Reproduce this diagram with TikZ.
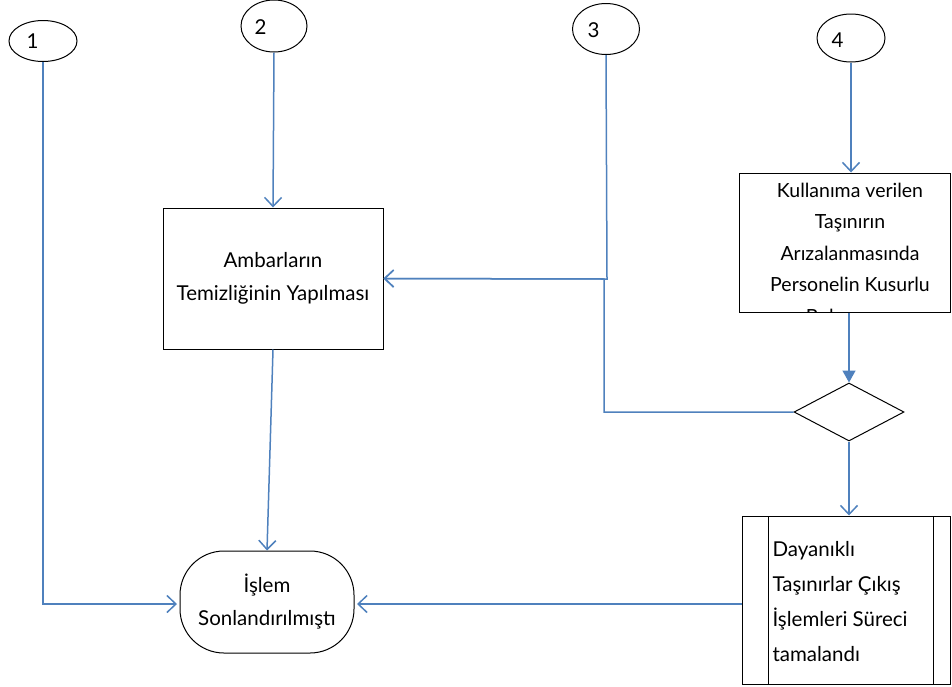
\documentclass[tikz,border=0pt]{standalone}
\usepackage{fontspec}
\setmainfont{Lato}
\usetikzlibrary{arrows.meta,shapes.geometric}
\definecolor{flowblue}{HTML}{4F81BD}
\tikzset{
  conn/.style={draw=flowblue,line width=1.5pt},
  openarr/.style={conn,-{Straight Barb[length=9pt,width=17pt,line width=1.5pt]}},
  fillarr/.style={conn,-{Triangle[length=12pt,width=13pt]}},
  conn-circ/.style={ellipse,draw=black,line width=1pt,minimum width=#1,inner sep=0pt},
  boxstyle/.style={rectangle,draw=black,line width=1pt,inner sep=0pt},
  lbl/.style={font=\fontsize{20.5}{33}\selectfont}
}
\begin{document}
\begin{tikzpicture}[x=1pt,y=-1pt]
\useasboundingbox (0,0) rectangle (952,686);
% connector circles
\node[conn-circ=68pt,minimum height=41pt] (e1) at (43,41) {};
\node[lbl,anchor=west] (t1) at (23,41) {1};
\node[conn-circ=66pt,minimum height=52pt] (e2) at (274,26) {};
\node[lbl,anchor=west] (t2) at (251,27) {2};
\node[conn-circ=67pt,minimum height=51pt] (e3) at (606,29) {};
\node[lbl,anchor=west] (t3) at (584,30) {3};
\node[conn-circ=68pt,minimum height=48pt] (e4) at (851,38) {};
\node[lbl,anchor=west] (t4) at (828,40) {4};
% Ambar box
\node[boxstyle,minimum width=220pt,minimum height=141pt,lbl,align=center] (ambar) at (273,278.5)
  {Ambarların\\Temizliğinin Yapılması};
% Kullanima box
\node[boxstyle,minimum width=211pt,minimum height=139pt] (kb) at (844.5,242.5) {};
\begin{scope}
  \clip (kb.north west) rectangle (kb.south east);
  \node[anchor=north,align=center,inner sep=0pt,font=\fontsize{19.5}{31.5}\selectfont] (kbt) at (850,182.5)
    {Kullanıma verilen\\Taşınırın\\Arızalanmasında\\Personelin Kusurlu\\Bulunması};
\end{scope}
% diamond
\node[diamond,draw=black,line width=1pt,minimum width=110pt,minimum height=58pt,inner sep=0pt,aspect=1.9] (dia) at (849,412) {};
% predefined process
\node[boxstyle,minimum width=208pt,minimum height=168pt] (dp) at (846,600) {};
\draw[line width=1pt] (768,516) -- (768,684) (933,516) -- (933,684);
\node[anchor=west,align=left,font=\fontsize{20.5}{35}\selectfont] (dpt) at (769,602)
  {Dayanıklı\\Taşınırlar Çıkış\\İşlemleri Süreci\\tamalandı};
% terminal
\node[draw=black,line width=1pt,rounded corners=44pt,minimum width=174pt,minimum height=102pt,align=center,lbl] (islem) at (267,602)
  {İşlem\\Sonlandırılmıştı};
% connectors
\coordinate (c1) at (43,604);
\coordinate (c3) at (607,279);
\coordinate (cd) at (604,412);
\coordinate (cd2) at (604,279);
\coordinate (cl) at (177,604);
\coordinate (cr) at (357,604);
\draw[openarr] (e1.south) -- (c1) -- (cl);
\draw[openarr] (e2.south) -- (ambar.north);
\draw[openarr] (e3.south) -- (c3) -- (ambar.east);
\draw[openarr] (dia.west) -- (cd) -- (cd2) -- (ambar.east);
\draw[openarr] (e4.south) -- (kb.north -| e4.south);
\draw[fillarr] (kb.south -| dia.north) -- (dia.north);
\draw[openarr] (dia.south) -- (dp.north -| dia.south);
\draw[openarr] (ambar.south) -- (islem.north);
\draw[openarr] (dp.west |- cr) -- (cr);
\end{tikzpicture}
\end{document}
